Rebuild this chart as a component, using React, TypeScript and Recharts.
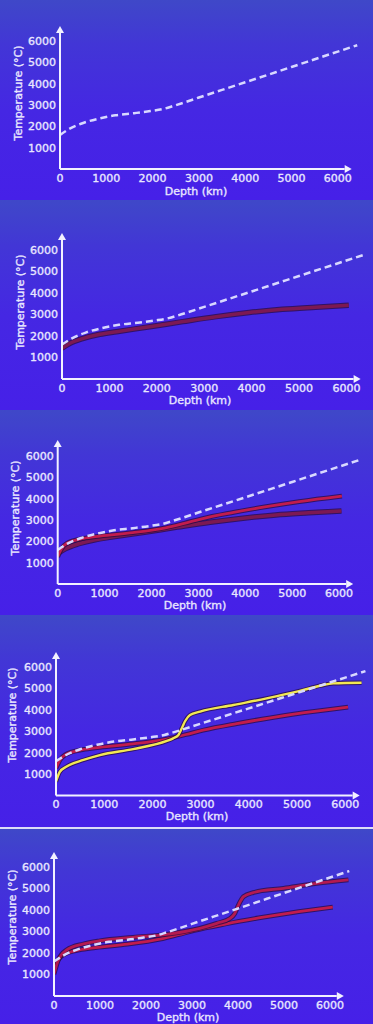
import { LineChart, Line, XAxis, YAxis, ReferenceLine } from "recharts";

// axis ticks (km, °C)
const depthTicks = [0, 1000, 2000, 3000, 4000, 5000, 6000];
const tempTicks = [1000, 2000, 3000, 4000, 5000, 6000];

// dashed curve
const meltDepth = [0, 200, 500, 850, 1200, 1600, 1950, 2250, 2450, 3000, 4000, 5000, 6000, 6420];
const meltTemp = [1600, 1880, 2160, 2370, 2520, 2620, 2720, 2830, 2960, 3355, 4070, 4790, 5510, 5810];

// dark red curve (lowest)
const lowDepth = [0, 170, 450, 800, 1150, 1850, 2550, 3250, 3950, 4650, 5350, 6050];
const lowTemp = [1430, 1660, 1890, 2080, 2200, 2430, 2670, 2900, 3090, 3240, 3340, 3430];

// brighter red curve
const midDepth = [0, 85, 190, 550, 900, 1600, 2300, 2700, 3050, 3750, 4450, 5150, 6060];
const midTemp = [1280, 1670, 1900, 2140, 2250, 2410, 2640, 2850, 3050, 3360, 3630, 3870, 4130];

// yellow curve, jump near 2700 km
const yelDepth = [0, 80, 220, 570, 910, 1600, 2300, 2430, 2540, 2610, 2680, 2780, 2990, 3680, 4370, 5060, 5480, 5750, 6340];
const yelTemp = [650, 1110, 1350, 1660, 1890, 2170, 2550, 2670, 2830, 3140, 3480, 3760, 3920, 4230, 4540, 4890, 5130, 5240, 5270];

// red curve, jump near 4000 km
const jumpDepth = [0, 94, 275, 640, 1000, 1720, 2450, 3170, 3540, 3830, 3930, 4010, 4120, 4330, 4990, 5710, 6400];
const jumpTemp = [1020, 1670, 2140, 2420, 2570, 2730, 2870, 3150, 3380, 3610, 3840, 4230, 4620, 4810, 5010, 5240, 5400];

const toPoints = (d: number[], t: number[]) => d.map((x, i) => ({ d: x, t: t[i] }));

type Style = { color: string; width: number; dashed?: boolean };

const SERIES: Record<string, { points: { d: number; t: number }[]; style: Style }> = {
  low: { points: toPoints(lowDepth, lowTemp), style: { color: "#7c1953", width: 3.5 } },
  mid: { points: toPoints(midDepth, midTemp), style: { color: "#c21c4d", width: 2.8 } },
  yellow: { points: toPoints(yelDepth, yelTemp), style: { color: "#f2e852", width: 2.4 } },
  jump: { points: toPoints(jumpDepth, jumpTemp), style: { color: "#b41a50", width: 2.8 } },
  melt: { points: toPoints(meltDepth, meltTemp), style: { color: "#d8d8ff", width: 2.5, dashed: true } },
};

const X_MAX = 6450;
const X_ARROW = 6300;
const TEXT = "#e8e6ff";
const FONT = "'DejaVu Sans', Verdana, sans-serif";

type Panel = {
  top: number;
  height: number;
  x0: number;
  xPer: number;
  y0: number;
  yTop: number;
  yPer: number;
  lines: string[];
  depthAt: [number, number];
  tempAt: [number, number];
};

const panels: Panel[] = [
  { top: 0, height: 200, x0: 60, xPer: 46.3, y0: 169, yTop: 26, yPer: 21.3, lines: ["melt"], depthAt: [196, 191], tempAt: [18.5, 93] },
  { top: 200, height: 210, x0: 62, xPer: 47.4, y0: 379, yTop: 233, yPer: 21.5, lines: ["low", "melt"], depthAt: [200, 400], tempAt: [20, 302] },
  { top: 410, height: 205, x0: 57.7, xPer: 46.9, y0: 584, yTop: 440, yPer: 21.3, lines: ["low", "mid", "melt"], depthAt: [195, 605], tempAt: [15, 508] },
  { top: 615, height: 212, x0: 56, xPer: 48.2, y0: 795.5, yTop: 652, yPer: 21.4, lines: ["mid", "yellow", "melt"], depthAt: [197, 816], tempAt: [12, 715] },
  { top: 829, height: 195, x0: 54, xPer: 46, y0: 996, yTop: 852, yPer: 21.5, lines: ["mid", "jump", "melt"], depthAt: [188, 1017], tempAt: [12, 917] },
];

const tickStyle = { fill: TEXT, fontSize: 11, fontFamily: FONT, stroke: TEXT, strokeWidth: 0.35 };

function Arrow(props: any) {
  const { x1, y1, x2, y2 } = props;
  const dx = x2 - x1;
  const dy = y2 - y1;
  const len = Math.sqrt(dx * dx + dy * dy) || 1;
  const ux = dx / len;
  const uy = dy / len;
  const hl = 7;
  const hw = 4;
  const bx = x2 - ux * hl;
  const by = y2 - uy * hl;
  return (
    <g>
      <line x1={x1} y1={y1} x2={bx} y2={by} stroke="#f2f2ff" strokeWidth={2} />
      <polygon
        points={`${x2},${y2} ${bx - uy * hw},${by + ux * hw} ${bx + uy * hw},${by - ux * hw}`}
        fill="#f2f2ff"
      />
    </g>
  );
}

function renderSeries(key: string) {
  const s = SERIES[key];
  const st = s.style;
  const out = [];
  if (!st.dashed) {
    out.push(
      <Line
        key={key + "-shadow"}
        data={s.points}
        dataKey="t"
        type="monotone"
        stroke="#2a0b3e"
        strokeOpacity={0.75}
        strokeWidth={st.width + 2}
        dot={false}
        activeDot={false}
        isAnimationActive={false}
      />
    );
  }
  out.push(
    <Line
      key={key}
      data={s.points}
      dataKey="t"
      type="monotone"
      stroke={st.color}
      strokeWidth={st.width}
      strokeDasharray={st.dashed ? "7 4" : undefined}
      dot={false}
      activeDot={false}
      isAnimationActive={false}
    />
  );
  return out;
}

function PanelChart({ p }: { p: Panel }) {
  const plotRight = p.x0 + (X_MAX / 1000) * p.xPer;
  const yMax = ((p.y0 - p.yTop) / p.yPer) * 1000;
  const axisH = 20;
  const marginTop = p.yTop - p.top;
  const marginBottom = p.height - (p.y0 - p.top) - axisH;
  const tx = p.tempAt[0];
  const ty = p.tempAt[1] - p.top;
  return (
    <div
      style={{
        position: "absolute",
        left: 0,
        top: p.top,
        width: 373,
        height: p.height,
        background: "linear-gradient(180deg, #3f48c8 0%, #4236d6 22%, #4527e3 55%, #4620e8 100%)",
      }}
    >
      <LineChart
        width={373}
        height={p.height}
        margin={{ top: marginTop, right: 373 - plotRight, bottom: marginBottom, left: 0 }}
      >
        <XAxis
          type="number"
          dataKey="d"
          domain={[0, X_MAX]}
          ticks={depthTicks}
          axisLine={false}
          tickLine={false}
          tickSize={0}
          tickMargin={5}
          height={axisH}
          allowDataOverflow
          interval={0}
          tick={tickStyle}
        />
        <YAxis
          type="number"
          domain={[0, yMax]}
          ticks={tempTicks}
          axisLine={false}
          tickLine={false}
          tickSize={0}
          tickMargin={4}
          width={p.x0}
          allowDataOverflow
          interval={0}
          tick={tickStyle}
        />
        {p.lines.map((k) => renderSeries(k))}
        <ReferenceLine
          segment={[{ x: 0, y: 0 }, { x: X_ARROW, y: 0 }]}
          ifOverflow="visible"
          shape={(props: any) => <Arrow {...props} />}
        />
        <ReferenceLine
          segment={[{ x: 0, y: 0 }, { x: 0, y: yMax }]}
          ifOverflow="visible"
          shape={(props: any) => <Arrow {...props} />}
        />
        <text
          x={p.depthAt[0]}
          y={p.depthAt[1] - p.top}
          textAnchor="middle"
          dominantBaseline="central"
          fill={TEXT}
          stroke={TEXT}
          strokeWidth={0.35}
          fontSize={11}
          fontFamily={FONT}
        >
          Depth (km)
        </text>
        <text
          x={tx}
          y={ty}
          textAnchor="middle"
          dominantBaseline="central"
          transform={`rotate(-90 ${tx} ${ty})`}
          fill={TEXT}
          stroke={TEXT}
          strokeWidth={0.35}
          fontSize={11}
          fontFamily={FONT}
        >
          Temperature (°C)
        </text>
      </LineChart>
    </div>
  );
}

export default function App() {
  return (
    <div style={{ position: "absolute", left: 0, top: 0, width: 373, height: 1024, overflow: "hidden", background: "#4428e0" }}>
      {panels.map((p, i) => (
        <PanelChart key={i} p={p} />
      ))}
      <div style={{ position: "absolute", left: 0, top: 827, width: 373, height: 2, background: "#dcdcf8" }} />
    </div>
  );
}
